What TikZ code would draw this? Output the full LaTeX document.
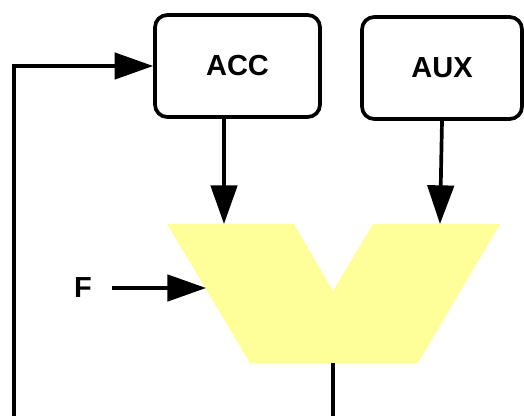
\documentclass[tikz,border=0pt]{standalone}
\usepackage{fontspec}
\setmainfont{Liberation Sans}
\usetikzlibrary{arrows.meta}

\definecolor{alucolor}{RGB}{255,255,153}

\tikzset{
  regbox/.style={draw, line width=2.1pt, rounded corners=7pt, minimum width=3.3cm, minimum height=2.04cm, inner sep=0pt, font=\fontsize{16.5}{18}\selectfont\bfseries},
  bus/.style={line width=2.1pt},
  arr/.style={bus, -{Triangle[length=22pt,width=15pt]}}
}

\begin{document}
\begin{tikzpicture}[x=0.02cm, y=-0.02cm]
  \useasboundingbox (0,0) rectangle (524,416);

  % Registers
  \node[regbox] (ACC) at (237.5,66) {ACC};
  \node[regbox, minimum width=3.2cm] (AUX) at (442,68) {AUX};

  % Draw the ALU
  \fill[alucolor] (167,224) -- (294,224) -- (333,291) -- (373,224) -- (500,224)
    -- (418,363) -- (250,363) -- cycle;
  \coordinate (aluA) at (224,224);
  \coordinate (aluB) at (440,224);
  \coordinate (aluF) at (206,288);
  \coordinate (aluOut) at (333,363);

  % Inputs
  \draw[arr] (ACC.south -| aluA) -- (aluA);
  \draw[arr] (AUX.south) -- (aluB);
  \node[font=\fontsize{16.5}{18}\selectfont\bfseries, inner sep=0pt] (F) at (83,288) {F};
  \draw[arr] ([xshift=11pt]F.east) -- (aluF);

  % Result fed back to ACC
  \coordinate (outEnd) at (333,416);
  \coordinate (backEnd) at (14,416);
  \draw[bus] (aluOut) -- (outEnd);
  \draw[arr] (backEnd) -- (backEnd |- ACC.west) -- (ACC.west);
\end{tikzpicture}
\end{document}
